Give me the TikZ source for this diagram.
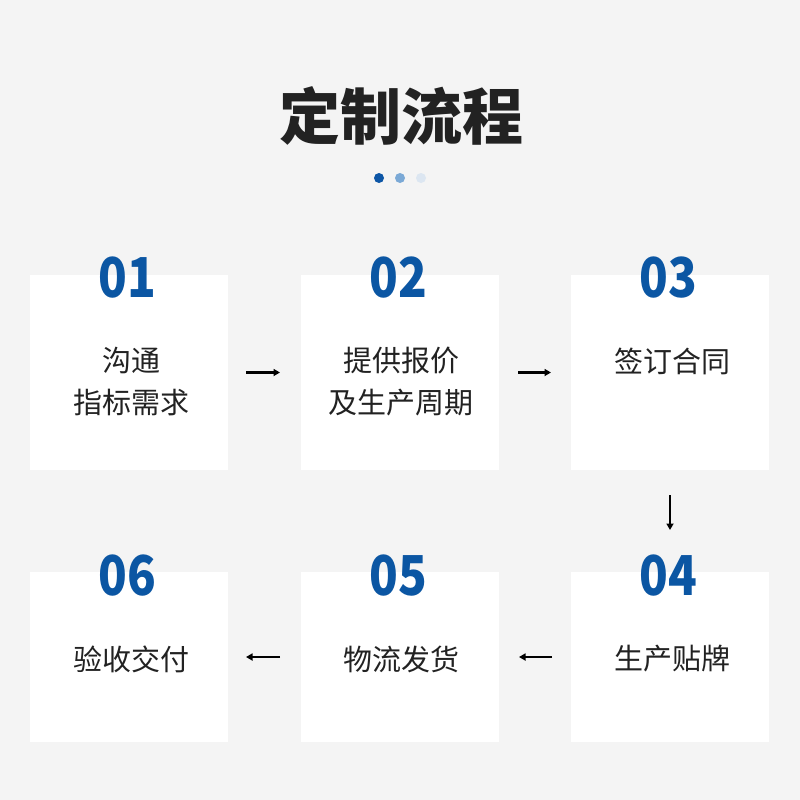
\documentclass[tikz,border=0pt]{standalone}
\usepackage{fontspec}
\setmainfont{Noto Sans CJK SC}
\newfontfamily\cjk{Noto Sans CJK SC}
\newfontfamily\numfont{Noto Sans CJK SC}[FakeStretch=0.86]
\usetikzlibrary{arrows.meta}
\definecolor{bg}{HTML}{F4F4F4}
\definecolor{numblue}{HTML}{0B56A3}
\definecolor{dotA}{HTML}{0D56A6}
\definecolor{dotB}{HTML}{7BA9D6}
\definecolor{dotC}{HTML}{DCE6F1}
\definecolor{txt}{HTML}{222222}
\tikzset{
  card/.style={fill=white, draw=none, minimum width=198pt, inner sep=0pt, outer sep=0pt},
  tallcard/.style={card, minimum height=195pt},
  shortcard/.style={card, minimum height=170pt},
  num/.style={text=numblue, font=\numfont\bfseries\fontsize{55}{55}\selectfont, inner sep=0pt},
  lbl/.style={text=txt, font=\cjk\fontsize{29}{42}\selectfont, align=center, inner sep=0pt},
  arr/.style={-{Triangle[length=6.5pt,width=7pt]}, line width=2.2pt, black},
  dotty/.style={circle, inner sep=0pt, minimum size=10pt, draw=none}
}
\begin{document}
\begin{tikzpicture}[x=1pt,y=-1pt]
\fill[bg] (0,0) rectangle (800,800);
\useasboundingbox (0,0) rectangle (800,800);
\node[text=txt, font=\cjk\bfseries\fontsize{61}{61}\selectfont, inner sep=0pt] (title) at (401,116) {定制流程};
\node[dotty, fill=dotA] (d1) at (379,178) {};
\node[dotty, fill=dotB] (d2) at (400,178) {};
\node[dotty, fill=dotC] (d3) at (421,178) {};

\node[tallcard] (b1) at (129,372.5) {};
\node[tallcard] (b2) at (400,372.5) {};
\node[tallcard] (b3) at (670,372.5) {};
\node[shortcard] (b6) at (129,657) {};
\node[shortcard] (b5) at (400,657) {};
\node[shortcard] (b4) at (670,657) {};

\node[num] (n1) at (127,278) {01};
\node[num] (n2) at (398,278) {02};
\node[num] (n3) at (668,278) {03};
\node[num] (n6) at (127,576) {06};
\node[num] (n5) at (398,576) {05};
\node[num] (n4) at (668,576) {04};

\node[lbl] (t1) at (131,382) {沟通\\指标需求};
\node[lbl] (t2) at (401,382) {提供报价\\及生产周期};
\node[lbl] (t3) at (672,361) {签订合同};
\node[lbl] (t4) at (672,659) {生产贴牌};
\node[lbl] (t5) at (401,659) {物流发货};
\node[lbl] (t6) at (131,659) {验收交付};

\draw[arr, shorten <=18pt, shorten >=21pt] (b1.east) -- (b2.west);
\draw[arr, shorten <=19pt, shorten >=20pt] (b2.east) -- (b3.west);
\draw[arr, shorten <=25pt, shorten >=42pt] (b3.south) -- (b4.north);
\draw[arr, shorten <=19pt, shorten >=20pt] (b4.west) -- (b5.east);
\draw[arr, shorten <=21pt, shorten >=18pt] (b5.west) -- (b6.east);
\end{tikzpicture}
\end{document}
